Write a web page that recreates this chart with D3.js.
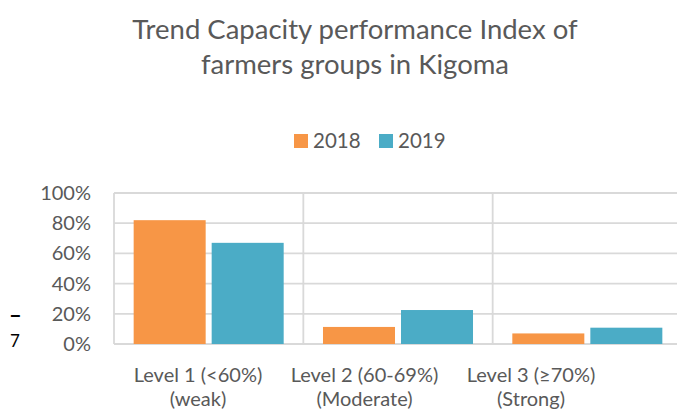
<!DOCTYPE html>
<html>
<head>
<meta charset="utf-8">
<script src="https://cdn.jsdelivr.net/npm/d3@7"></script>
<style>
  body { margin: 0; background: #fff; }
  svg { display: block; font-family: Lato, "Open Sans", sans-serif; }
</style>
</head>
<body>
<svg class="chart" width="677" height="414"></svg>
<script>
// chart data
var categories = ["Level 1 (<60%)|(weak)", "Level 2 (60-69%)|(Moderate)", "Level 3 (≥70%)|(Strong)"];
var seriesNames = ["2018", "2019"];
var values2018 = [0.82, 0.113, 0.07];
var values2019 = [0.67, 0.225, 0.108];
var yTicks = [0, 0.2, 0.4, 0.6, 0.8, 1.0];
var colors = ["#F79646", "#4BACC6"];

var svg = d3.select(".chart");
var textColor = "#595959",
	gridColor = "#D9D9D9";

var rows = categories.map(function(c, i){
	return {cat: c, vals: [values2018[i], values2019[i]]};
});

// scales
var scaleX = d3.scaleBand().domain(categories).range([114, 682]).paddingInner(0).paddingOuter(0);
var scaleSeries = d3.scaleBand().domain(seriesNames).range([0, scaleX.bandwidth()])
	.paddingInner(0.077).paddingOuter(0.252);
var scaleY = d3.scaleLinear().domain([0, 1]).range([344, 193]);
var labelX = d3.scalePoint().domain(categories).range([198, 531]);

// title
var title = svg.append("text")
	.attr("x", 355)
	.attr("text-anchor", "middle")
	.style("font-size", "27.5px")
	.style("fill", textColor);
title.append("tspan").attr("x", 355).attr("y", 39).text("Trend Capacity performance Index of");
title.append("tspan").attr("x", 355).attr("y", 74).text("farmers groups in Kigoma");

// legend
var legend = svg.append("g").attr("class", "legend");
var legendX = [294, 379];
seriesNames.forEach(function(s, i){
	legend.append("rect")
		.attr("x", legendX[i]).attr("y", 134)
		.attr("width", 14).attr("height", 14)
		.style("fill", colors[i]);
	legend.append("text")
		.attr("x", legendX[i] + 19).attr("y", 148)
		.style("font-size", "20.5px")
		.style("fill", textColor)
		.text(s);
});

// gridlines
svg.append("g").selectAll(".hgrid")
	.data(yTicks)
	.enter()
	.append("line")
	.attr("class", "hgrid")
	.attr("x1", 114).attr("x2", 682)
	.attr("y1", function(d){return scaleY(d);})
	.attr("y2", function(d){return scaleY(d);})
	.style("stroke", gridColor)
	.style("stroke-width", 1.8);

svg.append("g").selectAll(".vgrid")
	.data(categories.concat(["end"]))
	.enter()
	.append("line")
	.attr("class", "vgrid")
	.attr("x1", function(d, i){return 114 + i * scaleX.step();})
	.attr("x2", function(d, i){return 114 + i * scaleX.step();})
	.attr("y1", scaleY(1)).attr("y2", scaleY(0))
	.style("stroke", gridColor)
	.style("stroke-width", 1.8);

// y axis labels
var yAxis = d3.axisLeft(scaleY)
	.tickValues(yTicks)
	.tickFormat(d3.format(".0%"))
	.tickSize(0)
	.tickPadding(0);
var yg = svg.append("g")
	.attr("transform", "translate(91,0)")
	.call(yAxis);
yg.select(".domain").remove();
yg.selectAll("text")
	.style("font-size", "20px")
	.style("font-family", "Lato, 'Open Sans', sans-serif")
	.style("fill", textColor);

// bars
var groups = svg.selectAll(".cat")
	.data(rows)
	.enter()
	.append("g")
	.attr("class", "cat")
	.attr("transform", function(d){return "translate(" + scaleX(d.cat) + ",0)";});

groups.selectAll(".bar")
	.data(function(d){return d.vals.map(function(v, i){return {s: seriesNames[i], v: v, i: i};});})
	.enter()
	.append("rect")
	.attr("class", "bar")
	.attr("x", function(d){return scaleSeries(d.s);})
	.attr("width", scaleSeries.bandwidth())
	.attr("y", function(d){return scaleY(d.v);})
	.attr("height", function(d){return scaleY(0) - scaleY(d.v);})
	.style("fill", function(d){return colors[d.i];});

// x labels
svg.selectAll(".xlabel")
	.data(categories)
	.enter()
	.append("text")
	.attr("class", "xlabel")
	.attr("text-anchor", "middle")
	.style("font-size", "20px")
	.style("fill", textColor)
	.each(function(d){
		var t = d3.select(this);
		d.split("|").forEach(function(line, k){
			t.append("tspan")
				.attr("x", labelX(d))
				.attr("y", 382 + k * 23.5)
				.text(line);
		});
	});

// stray marks at left edge
svg.append("text").attr("x", 9).attr("y", 323)
	.style("font-size", "22px").style("font-weight", "bold").style("fill", "#000").text("–");
svg.append("text").attr("x", 10).attr("y", 347)
	.style("font-size", "17px").style("fill", "#000").text("7");
</script>
</body>
</html>
